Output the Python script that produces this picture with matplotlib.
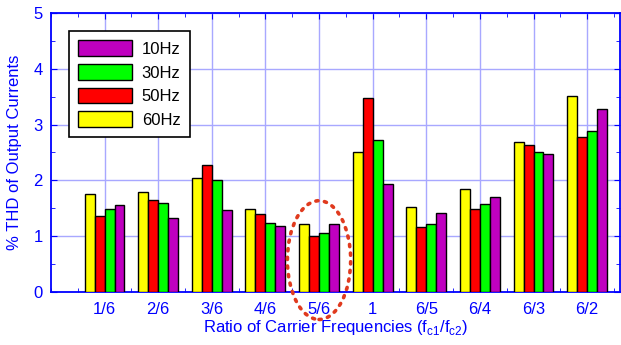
import numpy as np
import matplotlib.pyplot as plt
from matplotlib.patches import Ellipse
from matplotlib.ticker import MultipleLocator

plt.rcParams['font.family'] = ['Liberation Sans', 'DejaVu Sans']

ratios = ['1/6', '2/6', '3/6', '4/6', '5/6', '1', '6/5', '6/4', '6/3', '6/2']
thd_60 = [1.75, 1.79, 2.05, 1.48, 1.22, 2.51, 1.53, 1.84, 2.68, 3.51]
thd_50 = [1.36, 1.65, 2.27, 1.39, 1.00, 3.47, 1.17, 1.48, 2.63, 2.78]
thd_30 = [1.48, 1.60, 2.01, 1.24, 1.05, 2.72, 1.22, 1.58, 2.51, 2.89]
thd_10 = [1.55, 1.33, 1.46, 1.19, 1.22, 1.94, 1.41, 1.70, 2.48, 3.28]

blue = '#0000ff'
x = np.arange(1, len(ratios) + 1)
w = 0.186

fig = plt.figure(figsize=(6.21, 3.45), dpi=100)
ax = fig.add_axes([0.082, 0.154, 0.917, 0.808])

series = [(thd_60, '#ffff00', '60Hz'), (thd_50, '#ff0000', '50Hz'),
          (thd_30, '#00ff00', '30Hz'), (thd_10, '#bf00bf', '10Hz')]
handles = {}
for k, (vals, col, lab) in enumerate(series):
    b = ax.bar(x + (k - 1.5) * w, vals, w, color=col, edgecolor='black',
               linewidth=1, label=lab, zorder=3)
    handles[lab] = b

ax.set_xlim(0, 10.62)
ax.set_ylim(0, 5)
ax.set_xticks(x)
ax.set_xticklabels(ratios)
ax.xaxis.set_minor_locator(MultipleLocator(0.5))
ax.yaxis.set_major_locator(MultipleLocator(1))
ax.yaxis.set_minor_locator(MultipleLocator(0.5))
ax.tick_params(which='both', direction='in', top=True, right=True, color=blue,
               labelcolor=blue, labelsize=12)
ax.tick_params(which='major', length=4)
ax.tick_params(which='minor', length=3)
ax.tick_params(axis='x', pad=7)
ax.tick_params(axis='y', pad=6)
for s in ax.spines.values():
    s.set_color(blue)
    s.set_linewidth(1.3)
ax.grid(True, which='major', color='#a8a8ff', linewidth=1, zorder=0)

ax.set_xlabel('Ratio of Carrier Frequencies (f$_{\\mathregular{c1}}$/f$_{\\mathregular{c2}}$)',
              color=blue, fontsize=12, labelpad=1)
ax.set_ylabel('% THD of Output Currents', color=blue, fontsize=12, labelpad=8)

# dotted ring around the 5/6 group
ring = Ellipse((5.0, 0.57), 1.18, 2.13, fill=False, edgecolor='#e03a1e',
               linestyle=(0, (0.6, 1.8)), linewidth=2.6,
               clip_on=False, zorder=5)
ring.set_capstyle('round')
ax.add_patch(ring)

order = ['10Hz', '30Hz', '50Hz', '60Hz']
leg = ax.legend([handles[o] for o in order], order, loc='upper left',
                bbox_to_anchor=(0.032, 0.935), fontsize=12, fancybox=False,
                framealpha=1, edgecolor='black', handlelength=3.2,
                handleheight=1.08, labelspacing=0.42, borderpad=0.55,
                handletextpad=0.6, borderaxespad=0)
leg.get_frame().set_linewidth(1.2)

fig.savefig('out.png', dpi=100)
